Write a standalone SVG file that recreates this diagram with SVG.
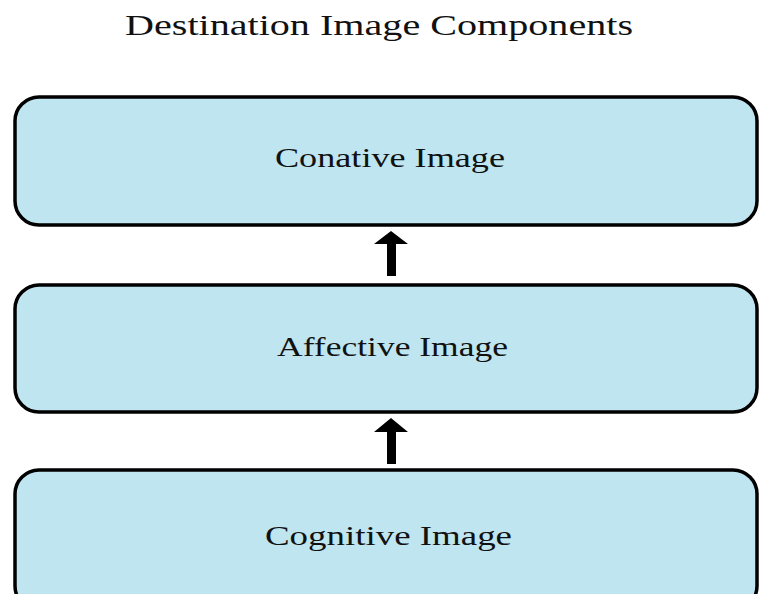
<svg xmlns="http://www.w3.org/2000/svg" width="759" height="594" viewBox="0 0 759 594">
  <style>
    .box { fill: #bfe5f0; stroke: #000; stroke-width: 3.5; }
    .label { font-family: "Liberation Serif", "Times New Roman", serif; font-size: 28px; fill: #111; }
    .title { font-family: "Liberation Serif", "Times New Roman", serif; font-size: 30px; fill: #111; }
    .arrow { fill: #000; }
  </style>
  <rect width="759" height="594" fill="#fff"/>
  <text class="title" x="125" y="35" textLength="508" lengthAdjust="spacingAndGlyphs">Destination Image Components</text>

  <g id="conative">
    <rect class="box" x="15" y="97" width="742" height="128" rx="24"/>
    <text class="label" x="275" y="167" textLength="230" lengthAdjust="spacingAndGlyphs">Conative Image</text>
  </g>
  <g id="affective">
    <rect class="box" x="15" y="285" width="742" height="127" rx="24"/>
    <text class="label" x="277" y="356" textLength="231" lengthAdjust="spacingAndGlyphs">Affective Image</text>
  </g>
  <g id="cognitive">
    <rect class="box" x="15" y="470" width="742" height="140" rx="24"/>
    <text class="label" x="265" y="545" textLength="247" lengthAdjust="spacingAndGlyphs">Cognitive Image</text>
  </g>

  <g id="connectors">
    <polygon class="arrow" points="391,231 408,244 396,244 396,276 387,276 387,244 374,244"/>
    <polygon class="arrow" points="391,418 408,432 396,432 396,464 387,464 387,432 374,432"/>
  </g>
</svg>
